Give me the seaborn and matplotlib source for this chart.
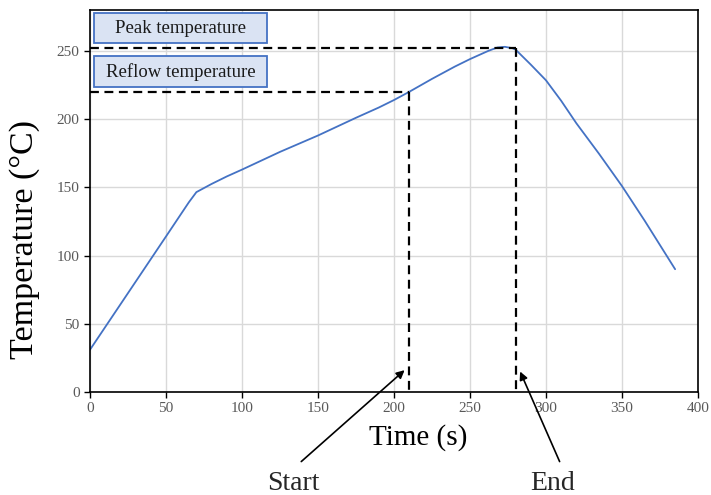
import numpy as np
import pandas as pd
import matplotlib
matplotlib.use("Agg")
import matplotlib.pyplot as plt
from matplotlib.patches import Rectangle
import seaborn as sns

# reflow profile
time_s = [0, 25, 50, 65, 70, 80, 90, 100, 125, 150, 175, 190, 200, 210, 225, 240, 250,
          262, 268, 273, 278, 280, 290, 300, 310, 320, 335, 350, 365, 385]
temp_c = [31, 72.5, 114, 139, 146.5, 152.5, 158, 163, 176, 188, 201, 208.5, 214, 220, 229.5, 238.5, 244,
          250, 252.5, 253, 252, 251, 240, 228.5, 213.5, 197, 174.5, 151, 125.5, 90]

peak_temp = 252
peak_time = 280
reflow_temp = 220
reflow_time = 210

box_labels = ["Peak temperature", "Reflow temperature"]
x_ticks = [0, 50, 100, 150, 200, 250, 300, 350, 400]
y_ticks = [0, 50, 100, 150, 200, 250]

sns.set_theme(style="whitegrid")
plt.rcParams['font.family'] = ['Liberation Serif', 'DejaVu Serif']

df = pd.DataFrame({"Time": time_s, "Temperature": temp_c})

fig = plt.figure(figsize=(7.11, 4.95), dpi=100)
ax = fig.add_axes([0.1266, 0.2081, 0.855, 0.7717])

sns.lineplot(data=df, x="Time", y="Temperature", ax=ax, color="#4472c4", linewidth=1.3)

# dashed guide lines
dash = (0, (4, 2.5))
ax.plot([0, peak_time], [peak_temp, peak_temp], ls=dash, color="black", lw=1.6)
ax.plot([peak_time, peak_time], [peak_temp, 0], ls=dash, color="black", lw=1.6)
ax.plot([0, reflow_time], [reflow_temp, reflow_temp], ls=dash, color="black", lw=1.6)
ax.plot([reflow_time, reflow_time], [reflow_temp, 0], ls=dash, color="black", lw=1.6)

ax.set_xlim(0, 400)
ax.set_ylim(0, 280)
ax.set_xticks(x_ticks)
ax.set_yticks(y_ticks)
ax.grid(True, color="#d9d9d9", lw=1)
ax.set_axisbelow(True)
for s in ax.spines.values():
    s.set_color("black")
    s.set_linewidth(1.2)
ax.tick_params(axis="both", colors="#595959", labelsize=11, length=4, direction="out",
               width=1, left=True, bottom=True, color="black")

ax.set_xlabel("Time (s)", fontsize=21, color="black")
ax.set_ylabel("Temperature (\u00b0C)", fontsize=24.5, color="black")
ax.xaxis.set_label_coords(0.54, -0.085)
ax.yaxis.set_label_coords(-0.083, 0.398)

# label boxes (axes fraction)
boxes = [(0.9136, 0.0785), (0.798, 0.081)]
for lab, (by, bh) in zip(box_labels, boxes):
    ax.add_patch(Rectangle((0.0066, by), 0.2845, bh, transform=ax.transAxes,
                           fc="#dae3f3", ec="#4472c4", lw=1.3, zorder=5))
    ax.text(0.0066 + 0.2845 / 2, by + bh / 2, lab, transform=ax.transAxes,
            ha="center", va="center", fontsize=13.5, color="#1a1a1a", zorder=6)

# Start / End arrows
ax.annotate("", xy=(207, 16), xytext=(139, -51), annotation_clip=False,
            arrowprops=dict(arrowstyle="-|>", color="black", lw=1.2, shrinkA=0, shrinkB=0))
ax.annotate("", xy=(283, 15), xytext=(309, -51), annotation_clip=False,
            arrowprops=dict(arrowstyle="-|>", color="black", lw=1.2, shrinkA=0, shrinkB=0))
ax.text(133.5, -71.5, "Start", ha="center", va="baseline", fontsize=20, clip_on=False)
ax.text(304.5, -71.5, "End", ha="center", va="baseline", fontsize=20, clip_on=False)

fig.savefig("out.png", dpi=100)
